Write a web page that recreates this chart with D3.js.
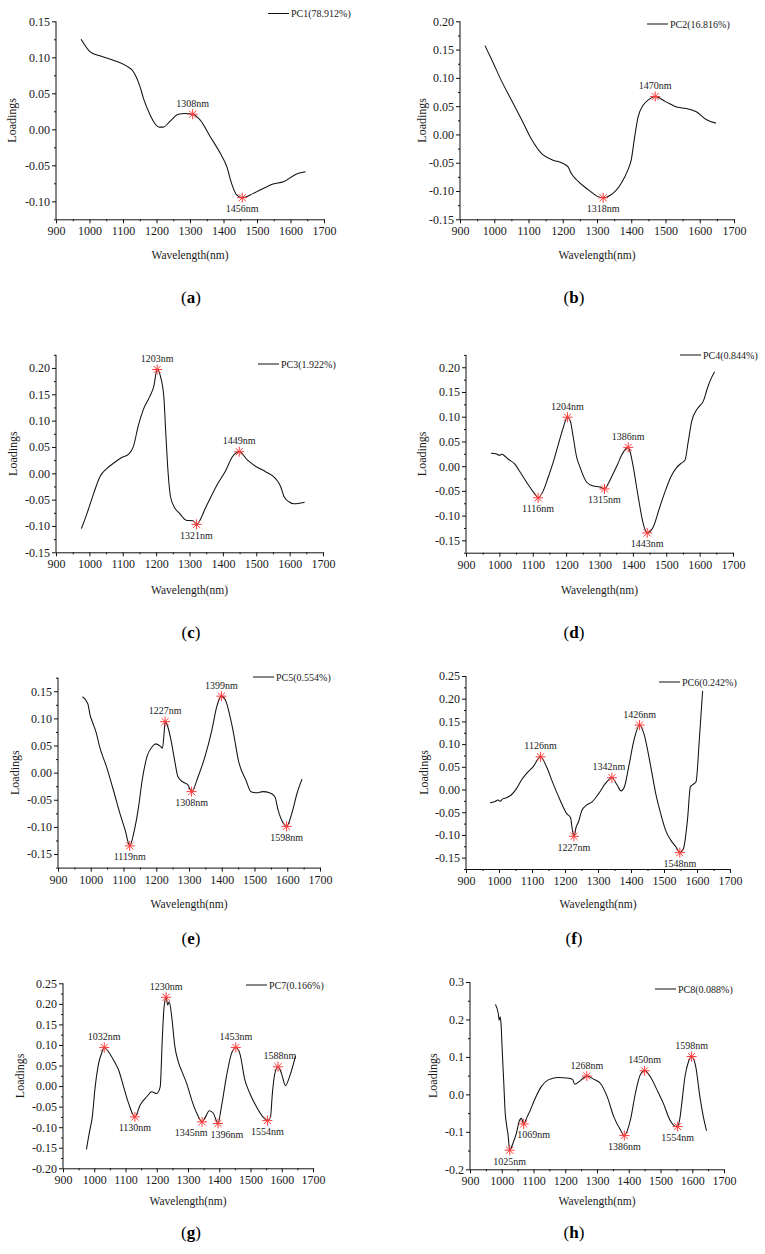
<!DOCTYPE html>
<html><head><meta charset="utf-8">
<script src="https://cdn.jsdelivr.net/npm/d3@7"></script>
<style>
body{margin:0;background:#fff;}
svg{display:block;font-family:"Liberation Serif","Times New Roman",serif;}
</style>
</head><body>
<svg id="chart" width="765" height="1254"></svg>
<script>
// ---------------- DATA ----------------
const wavelengthTicks = [900,1000,1100,1200,1300,1400,1500,1600,1700];
const wavelengthMinor = [950,1050,1150,1250,1350,1450,1550,1650];
const panelLetters = ["a","b","c","d","e","f","g","h"];
const legendLabels = ["PC1(78.912%)","PC2(16.816%)","PC3(1.922%)","PC4(0.844%)","PC5(0.554%)","PC6(0.242%)","PC7(0.166%)","PC8(0.088%)"];

const yTicksA = [-0.10,-0.05,0.00,0.05,0.10,0.15];
const yTicksB = [-0.15,-0.10,-0.05,0.00,0.05,0.10,0.15,0.20];
const yTicksC = [-0.15,-0.10,-0.05,0.00,0.05,0.10,0.15,0.20];
const yTicksD = [-0.15,-0.10,-0.05,0.00,0.05,0.10,0.15,0.20];
const yTicksE = [-0.15,-0.10,-0.05,0.00,0.05,0.10,0.15];
const yTicksF = [-0.15,-0.10,-0.05,0.00,0.05,0.10,0.15,0.20,0.25];
const yTicksG = [-0.20,-0.15,-0.10,-0.05,0.00,0.05,0.10,0.15,0.20,0.25];
const yTicksH = [-0.2,-0.1,0.0,0.1,0.2,0.3];

// loadings [wavelength nm, loading]
const pc1 = [[975,0.125],[1001,0.108],[1031,0.102],[1071,0.096],[1110,0.088],[1131,0.080],[1151,0.059],[1161,0.043],[1181,0.020],[1195,0.008],[1208,0.003],[1220,0.003],[1240,0.011],[1265,0.021],[1285,0.022],[1308,0.021],[1330,0.013],[1360,-0.010],[1390,-0.033],[1410,-0.052],[1424,-0.075],[1439,-0.091],[1456,-0.095],[1489,-0.089],[1528,-0.080],[1548,-0.076],[1579,-0.073],[1618,-0.062],[1645,-0.059]];
const pc1Peaks = [1308,1456];

const pc2 = [[973,0.157],[995,0.129],[1020,0.096],[1050,0.061],[1080,0.026],[1110,-0.010],[1140,-0.035],[1170,-0.045],[1200,-0.051],[1215,-0.057],[1225,-0.069],[1245,-0.083],[1275,-0.098],[1300,-0.109],[1318,-0.112],[1340,-0.107],[1370,-0.087],[1390,-0.063],[1400,-0.045],[1410,-0.004],[1420,0.031],[1435,0.052],[1450,0.061],[1470,0.067],[1500,0.058],[1535,0.048],[1560,0.046],[1590,0.040],[1620,0.026],[1647,0.020]];
const pc2Peaks = [1318,1470];

const pc3 = [[976,-0.105],[993,-0.076],[1013,-0.038],[1032,-0.006],[1052,0.009],[1072,0.019],[1097,0.030],[1117,0.036],[1132,0.051],[1146,0.089],[1161,0.120],[1181,0.146],[1193,0.165],[1203,0.197],[1213,0.184],[1223,0.146],[1229,0.076],[1236,0.000],[1243,-0.044],[1256,-0.066],[1270,-0.076],[1290,-0.089],[1310,-0.090],[1321,-0.097],[1350,-0.063],[1380,-0.025],[1409,0.006],[1429,0.032],[1449,0.041],[1474,0.025],[1499,0.013],[1528,0.003],[1558,-0.010],[1573,-0.025],[1583,-0.044],[1598,-0.054],[1613,-0.058],[1628,-0.057],[1645,-0.055]];
const pc3Peaks = [1203,1321,1449];

const pc4 = [[975,0.026],[990,0.025],[1000,0.022],[1008,0.024],[1015,0.021],[1025,0.015],[1045,0.005],[1065,-0.015],[1085,-0.036],[1105,-0.055],[1116,-0.064],[1130,-0.052],[1145,-0.025],[1160,0.005],[1175,0.040],[1190,0.075],[1204,0.099],[1213,0.090],[1221,0.060],[1231,0.020],[1241,-0.001],[1261,-0.032],[1281,-0.040],[1301,-0.042],[1315,-0.046],[1328,-0.033],[1341,-0.015],[1355,0.005],[1366,0.022],[1386,0.038],[1395,0.020],[1401,-0.001],[1416,-0.062],[1431,-0.116],[1443,-0.135],[1461,-0.123],[1481,-0.082],[1500,-0.045],[1515,-0.020],[1531,-0.003],[1545,0.006],[1556,0.012],[1566,0.050],[1576,0.090],[1591,0.114],[1600,0.122],[1610,0.130],[1625,0.161],[1635,0.178],[1645,0.191]];
const pc4Peaks = [1116,1204,1315,1386,1443];

const pc5 = [[975,0.140],[991,0.127],[998,0.106],[1006,0.092],[1017,0.073],[1027,0.048],[1048,0.011],[1069,-0.032],[1089,-0.075],[1105,-0.106],[1119,-0.135],[1131,-0.112],[1146,-0.063],[1157,-0.014],[1172,0.030],[1188,0.048],[1198,0.053],[1214,0.048],[1219,0.045],[1224,0.073],[1227,0.094],[1235,0.085],[1245,0.060],[1256,0.023],[1266,-0.007],[1281,-0.017],[1297,-0.023],[1308,-0.035],[1328,-0.007],[1349,0.030],[1370,0.079],[1385,0.122],[1399,0.141],[1411,0.134],[1432,0.085],[1453,0.017],[1474,-0.014],[1489,-0.035],[1505,-0.037],[1526,-0.035],[1546,-0.037],[1562,-0.044],[1572,-0.069],[1588,-0.093],[1598,-0.099],[1614,-0.075],[1630,-0.038],[1645,-0.012]];
const pc5Peaks = [1119,1227,1308,1399,1598];

const pc6 = [[973,-0.029],[986,-0.027],[997,-0.023],[1004,-0.026],[1010,-0.021],[1022,-0.018],[1037,-0.012],[1053,0.002],[1068,0.021],[1083,0.035],[1103,0.050],[1126,0.072],[1144,0.050],[1164,0.013],[1185,-0.023],[1205,-0.053],[1217,-0.062],[1221,-0.082],[1227,-0.103],[1234,-0.082],[1241,-0.071],[1251,-0.046],[1266,-0.034],[1282,-0.027],[1302,-0.009],[1322,0.013],[1342,0.026],[1358,0.010],[1370,-0.003],[1380,0.006],[1393,0.050],[1409,0.109],[1426,0.142],[1439,0.123],[1460,0.050],[1475,-0.009],[1490,-0.053],[1505,-0.090],[1521,-0.112],[1536,-0.126],[1548,-0.139],[1559,-0.130],[1571,-0.068],[1580,0.006],[1587,0.011],[1597,0.017],[1607,0.109],[1617,0.217]];
const pc6Peaks = [1126,1227,1342,1426,1548];

const pc7 = [[975,-0.154],[982,-0.123],[987,-0.103],[993,-0.079],[1003,-0.002],[1014,0.055],[1025,0.083],[1032,0.094],[1046,0.083],[1062,0.063],[1078,0.039],[1094,-0.002],[1110,-0.042],[1130,-0.075],[1147,-0.046],[1168,-0.026],[1184,-0.014],[1200,-0.018],[1211,-0.002],[1218,0.120],[1223,0.189],[1230,0.216],[1235,0.197],[1240,0.205],[1248,0.168],[1258,0.096],[1269,0.059],[1283,0.031],[1296,0.006],[1312,-0.034],[1328,-0.066],[1345,-0.087],[1356,-0.075],[1368,-0.060],[1381,-0.066],[1396,-0.091],[1407,-0.050],[1423,0.023],[1439,0.079],[1453,0.094],[1466,0.079],[1482,0.015],[1498,-0.018],[1519,-0.050],[1540,-0.075],[1554,-0.084],[1564,-0.075],[1570,-0.018],[1577,0.027],[1588,0.047],[1599,0.031],[1612,0.001],[1625,0.023],[1644,0.073]];
const pc7Peaks = [1032,1130,1230,1345,1396,1453,1554,1588];

const pc8 = [[980,0.240],[989,0.216],[992,0.198],[995,0.207],[998,0.185],[1001,0.127],[1006,0.038],[1011,-0.051],[1016,-0.086],[1020,-0.109],[1025,-0.149],[1035,-0.131],[1046,-0.104],[1056,-0.069],[1062,-0.064],[1069,-0.079],[1080,-0.060],[1088,-0.046],[1103,-0.015],[1124,0.020],[1145,0.038],[1176,0.045],[1212,0.043],[1223,0.040],[1230,0.027],[1244,0.034],[1259,0.045],[1268,0.049],[1291,0.040],[1311,0.029],[1332,-0.006],[1353,-0.060],[1374,-0.095],[1386,-0.110],[1405,-0.069],[1421,0.003],[1436,0.052],[1450,0.063],[1468,0.047],[1489,0.012],[1509,-0.024],[1530,-0.069],[1546,-0.085],[1554,-0.086],[1561,-0.064],[1567,-0.024],[1577,0.047],[1588,0.087],[1598,0.101],[1611,0.074],[1624,-0.006],[1635,-0.060],[1645,-0.097]];
const pc8Peaks = [1025,1069,1268,1386,1450,1554,1598];

// ---------------- LAYOUT (pixels / styles) ----------------
const layout = [
  {series:pc1, peaks:pc1Peaks, yTicks:yTicksA, dec:2, x0:56,  x1:324, yDom:[-0.125,0.15], yTopPx:21.3,  yBotPx:219.3, ttl:-44, leg:[268,13.5], row:0},
  {series:pc2, peaks:pc2Peaks, yTicks:yTicksB, dec:2, x0:460, x1:734, yDom:[-0.15,0.20],  yTopPx:21.3,  yBotPx:219.3, ttl:-38, leg:[647,24], row:0},
  {series:pc3, peaks:pc3Peaks, yTicks:yTicksC, dec:2, x0:56,  x1:323, yDom:[-0.15,0.225], yTopPx:354.8, yBotPx:552.3, ttl:-43, leg:[258,364], row:1},
  {series:pc4, peaks:pc4Peaks, yTicks:yTicksD, dec:2, x0:466, x1:733, yDom:[-0.175,0.225],yTopPx:354.9, yBotPx:552.7, ttl:-44, leg:[680,355], row:1},
  {series:pc5, peaks:pc5Peaks, yTicks:yTicksE, dec:2, x0:58,  x1:320, yDom:[-0.175,0.175],yTopPx:677.7, yBotPx:867.6, ttl:-43, leg:[253,677], row:2},
  {series:pc6, peaks:pc6Peaks, yTicks:yTicksF, dec:2, x0:466, x1:730, yDom:[-0.175,0.25], yTopPx:676,   yBotPx:869,   ttl:-42, leg:[659,682], row:2},
  {series:pc7, peaks:pc7Peaks, yTicks:yTicksG, dec:2, x0:63,  x1:313, yDom:[-0.20,0.25],  yTopPx:983.3, yBotPx:1168.3,ttl:-43, leg:[246,985], row:3},
  {series:pc8, peaks:pc8Peaks, yTicks:yTicksH, dec:1, x0:470, x1:724, yDom:[-0.2,0.3],    yTopPx:982,   yBotPx:1169.3,ttl:-37, leg:[655,989], row:3}
];
const rowTitleY = [255, 590, 904, 1201];
const rowLetterY = [297, 632, 938, 1232];
const colCenter = [191, 574];
const labelNudge = {"6_1345":-11, "6_1396":9, "7_1069":10, "5_1342":-3, "6_1588":2};

const svg = d3.select("#chart");
const TXT = "#1a1a1a";

layout.forEach((p, i) => {
  const g = svg.append("g");
  const x = d3.scaleLinear().domain([900,1700]).range([p.x0, p.x1]);
  const y = d3.scaleLinear().domain(p.yDom).range([p.yBotPx, p.yTopPx]);
  const fmt = v => { const r = Math.abs(v) < 1e-9 ? 0 : v; return r.toFixed(p.dec); };

  // minor y ticks
  const step = p.yTicks[1] - p.yTicks[0];
  const yMinor = [];
  for (let v = p.yTicks[0] - step/2; v <= p.yDom[1] + 1e-9; v += step) {
    if (v >= p.yDom[0] - 1e-9) yMinor.push(+v.toFixed(4));
  }
  const gyMinor = g.append("g").attr("transform", `translate(${p.x0},0)`)
    .call(d3.axisLeft(y).tickValues(yMinor).tickSize(2).tickSizeOuter(0).tickFormat(""));
  gyMinor.select(".domain").remove();
  const gy = g.append("g").attr("transform", `translate(${p.x0},0)`)
    .call(d3.axisLeft(y).tickValues(p.yTicks).tickSize(4).tickSizeOuter(0).tickPadding(2).tickFormat(fmt));
  gy.select(".domain").attr("d", `M0,${p.yTopPx}V${p.yBotPx}`);

  const bottom = p.yBotPx;
  const gxMinor = g.append("g").attr("transform", `translate(0,${bottom})`)
    .call(d3.axisBottom(x).tickValues(wavelengthMinor).tickSize(2).tickSizeOuter(0).tickFormat(""));
  gxMinor.select(".domain").remove();
  const gx = g.append("g").attr("transform", `translate(0,${bottom})`)
    .call(d3.axisBottom(x).tickValues(wavelengthTicks).tickSize(4).tickSizeOuter(0).tickPadding(3.5).tickFormat(d => String(d)));

  g.selectAll(".tick line, .domain").attr("stroke", "#111").attr("stroke-width", 1);
  g.selectAll(".tick text").attr("font-family", "Liberation Serif, serif").attr("font-size", 12).attr("fill", TXT);

  // y title
  const yMid = (p.yTopPx + p.yBotPx) / 2;
  g.append("text").attr("transform", `translate(${p.x0 + p.ttl},${yMid}) rotate(-90)`)
    .attr("text-anchor", "middle").attr("dy", "0.35em")
    .attr("font-size", 12).attr("fill", TXT).text("Loadings");
  // x title
  g.append("text").attr("x", (p.x0 + p.x1) / 2).attr("y", rowTitleY[p.row]).attr("dy", "0.35em")
    .attr("text-anchor", "middle").attr("font-size", 11.5).attr("fill", TXT).text("Wavelength(nm)");

  // curve
  const line = d3.line().x(d => x(d[0])).y(d => y(d[1])).curve(d3.curveMonotoneX);
  g.append("path").datum(p.series).attr("d", line)
    .attr("fill", "none").attr("stroke", "#111").attr("stroke-width", 1.05);

  // legend
  g.append("line").attr("x1", p.leg[0]).attr("x2", p.leg[0] + 21).attr("y1", p.leg[1]).attr("y2", p.leg[1])
    .attr("stroke", "#111").attr("stroke-width", 1);
  g.append("text").attr("x", p.leg[0] + 23).attr("y", p.leg[1]).attr("dy", "0.35em")
    .attr("font-size", 10).attr("fill", TXT).text(legendLabels[i]);

  // peaks
  const sym = d3.symbol().type({draw(ctx, size){
    const r = Math.sqrt(size)/2;
    const d = r*0.7071;
    ctx.moveTo(-r,0); ctx.lineTo(r,0);
    ctx.moveTo(0,-r); ctx.lineTo(0,r);
    ctx.moveTo(-d,-d); ctx.lineTo(d,d);
    ctx.moveTo(-d,d); ctx.lineTo(d,-d);
  }}).size(100);
  const n = p.series.length;
  p.peaks.forEach(nm => {
    const idx = p.series.findIndex(d => d[0] === nm);
    const pt = p.series[idx];
    const a = p.series[Math.max(0, idx-2)][1], b = p.series[Math.min(n-1, idx+2)][1];
    const isMax = pt[1] >= (a + b) / 2;
    const px = x(pt[0]), py = y(pt[1]);
    g.append("path").attr("d", sym()).attr("transform", `translate(${px},${py})`)
      .attr("fill", "none").attr("stroke", "#ff3b3b").attr("stroke-width", 1);
    const nudge = labelNudge[i + "_" + nm] || 0;
    g.append("text").attr("x", px + nudge).attr("y", isMax ? py - 11 : py + 11).attr("dy", "0.35em")
      .attr("text-anchor", "middle").attr("font-size", 10).attr("fill", TXT).text(nm + "nm");
  });

  // panel letter
  const col = i % 2;
  const lt = svg.append("text").attr("x", colCenter[col]).attr("y", rowLetterY[p.row]).attr("dy", "0.35em")
    .attr("text-anchor", "middle").attr("font-size", 17).attr("fill", "#000");
  lt.append("tspan").text("(");
  lt.append("tspan").attr("font-weight", "bold").text(panelLetters[i]);
  lt.append("tspan").text(")");
});
</script>
</body></html>
